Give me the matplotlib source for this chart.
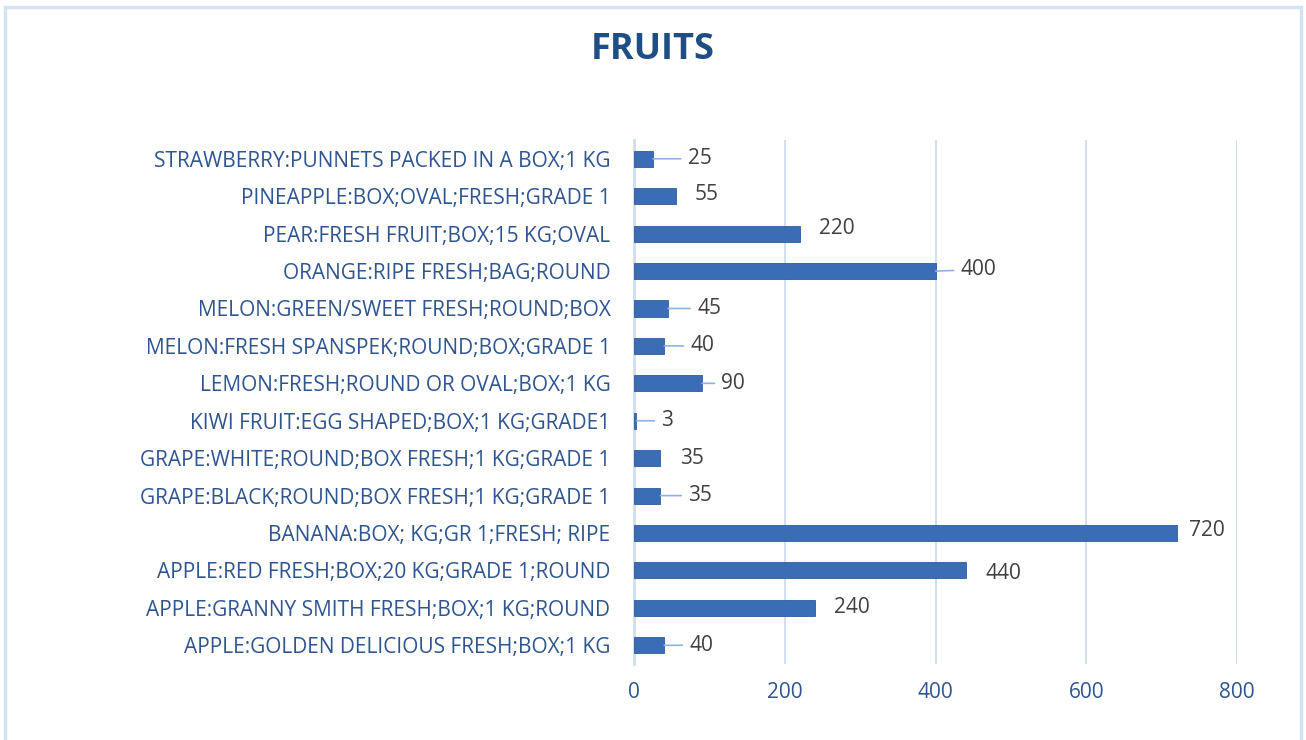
import matplotlib
matplotlib.use("Agg")
import matplotlib.pyplot as plt
from matplotlib.patches import Rectangle

categories = [
    "APPLE:GOLDEN DELICIOUS FRESH;BOX;1 KG",
    "APPLE:GRANNY SMITH FRESH;BOX;1 KG;ROUND",
    "APPLE:RED FRESH;BOX;20 KG;GRADE 1;ROUND",
    "BANANA:BOX; KG;GR 1;FRESH; RIPE",
    "GRAPE:BLACK;ROUND;BOX FRESH;1 KG;GRADE 1",
    "GRAPE:WHITE;ROUND;BOX FRESH;1 KG;GRADE 1",
    "KIWI FRUIT:EGG SHAPED;BOX;1 KG;GRADE1",
    "LEMON:FRESH;ROUND OR OVAL;BOX;1 KG",
    "MELON:FRESH SPANSPEK;ROUND;BOX;GRADE 1",
    "MELON:GREEN/SWEET FRESH;ROUND;BOX",
    "ORANGE:RIPE FRESH;BAG;ROUND",
    "PEAR:FRESH FRUIT;BOX;15 KG;OVAL",
    "PINEAPPLE:BOX;OVAL;FRESH;GRADE 1",
    "STRAWBERRY:PUNNETS PACKED IN A BOX;1 KG",
]
values = [40, 240, 440, 720, 35, 35, 3, 90, 40, 45, 400, 220, 55, 25]

# label placement (offset in points from bar end) and whether a leader line is drawn
label_dx = [18, 14, 14, 9, 20, 14, 18, 14, 19, 21, 18, 14, 14, 25]
label_dy = [0, 0, -2, 2, 0, 0, 0, 0, 0, 0, 1, 4, 1, 0]
leader = [True, False, False, False, True, False, True, True, True, True, True, False, False, True]

plt.rcParams['font.family'] = ['Open Sans', 'DejaVu Sans']

bar_color = "#3a6db6"
grid_color = "#cfdcee"
tick_color = "#2f5591"
value_color = "#404040"

fig = plt.figure(figsize=(13.06, 7.40), dpi=100)
fig.patches.append(Rectangle((0.004, -0.01), 0.992, 1.0, transform=fig.transFigure,
                             fill=False, edgecolor="#d6e3f5", linewidth=2.5))

ax = fig.add_axes([0.4855, 0.1027, 0.4617, 0.708])
y = list(range(len(categories)))
ax.barh(y, values, height=0.43, color=bar_color, edgecolor="#2c5c9c", linewidth=0.6, zorder=3)

ax.set_xlim(0, 800)
ax.set_ylim(-0.5, len(categories) - 0.5)
ax.set_xticks([0, 200, 400, 600, 800])
ax.set_yticks(y)
ax.set_yticklabels(categories)
ax.tick_params(axis='both', length=0, colors=tick_color, labelsize=15)
ax.tick_params(axis='y', pad=17)
ax.tick_params(axis='x', pad=13)
ax.grid(axis='x', color=grid_color, linewidth=1.3, zorder=0)
for s in ['top', 'right', 'bottom']:
    ax.spines[s].set_visible(False)
ax.spines['left'].set_color(grid_color)
ax.spines['left'].set_linewidth(2)

for i, v in enumerate(values):
    arrow = dict(arrowstyle='-', color="#8fb3e0", lw=1.2, shrinkA=3, shrinkB=0) if leader[i] else None
    ax.annotate(str(v), xy=(v, i), xytext=(label_dx[i], label_dy[i]), textcoords='offset points',
                ha='left', va='center', fontsize=15, color=value_color,
                arrowprops=arrow, zorder=4)

fig.text(0.5, 0.933, "FRUITS", ha='center', va='center', fontsize=26, fontweight='bold',
         color="#1f4e85")

fig.savefig("out.png", dpi=100)
